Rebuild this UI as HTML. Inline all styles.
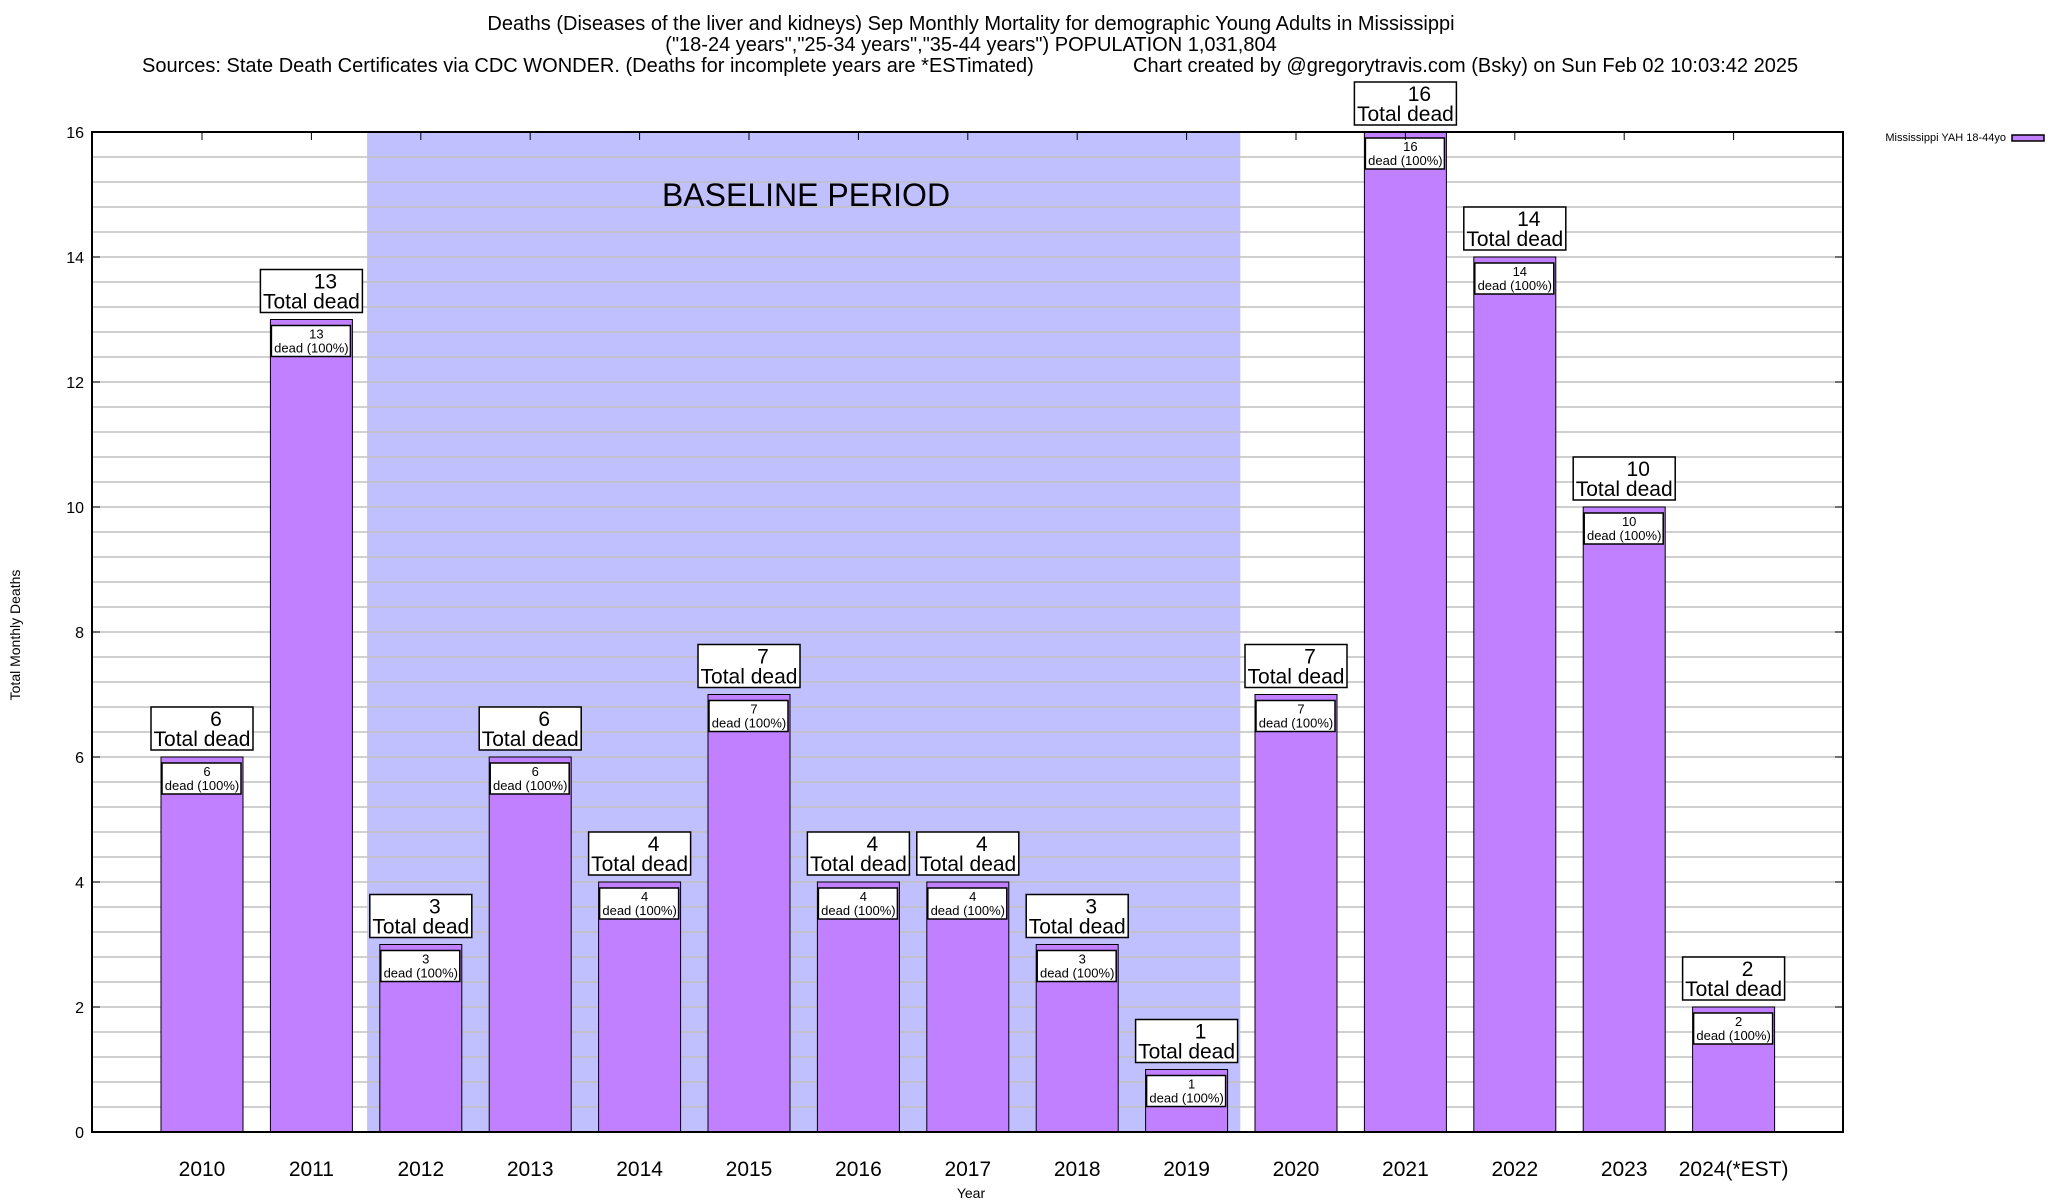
<!DOCTYPE html>
<html><head><meta charset="utf-8"><style>
html,body{margin:0;padding:0;background:#fff;}
svg{display:block;font-family:"Liberation Sans",sans-serif;}
</style></head><body>
<svg id="chart" width="2048" height="1200" viewBox="0 0 2048 1200" xmlns="http://www.w3.org/2000/svg">
<g font-size="20" fill="#000">
<text x="971" y="30" text-anchor="middle">Deaths (Diseases of the liver and kidneys) Sep Monthly Mortality for demographic Young Adults in Mississippi</text>
<text x="971" y="51" text-anchor="middle">("18-24 years","25-34 years","35-44 years") POPULATION 1,031,804</text>
<text x="142" y="72">Sources: State Death Certificates via CDC WONDER. (Deaths for incomplete years are *ESTimated)</text>
<text x="1133" y="72">Chart created by @gregorytravis.com (Bsky) on Sun Feb 02 10:03:42 2025</text>
</g>
<g id="plot"></g>
<text x="20" y="635" font-size="14" text-anchor="middle" transform="rotate(-90 20 635)">Total Monthly Deaths</text>
<text x="971" y="1198" font-size="14" text-anchor="middle">Year</text>
<g>
<text x="2006" y="141" font-size="11" text-anchor="end">Mississippi YAH 18-44yo</text>
<rect x="2012" y="135" width="32" height="6" fill="#c080ff" stroke="#000" stroke-width="1.5"/>
</g>
</svg>
<script>
const categories = ["2010","2011","2012","2013","2014","2015","2016","2017","2018","2019","2020","2021","2022","2023","2024(*EST)"];
const deaths = [6,13,3,6,4,7,4,4,3,1,7,16,14,10,2];
const yTicks = [0,2,4,6,8,10,12,14,16];
const baselineRange = [2, 9];

const NS = "http://www.w3.org/2000/svg";
const plot = document.getElementById("plot");
const L = 92, R = 1843, T = 132, B = 1132, yMax = 16;
const x0 = 202, pitch = 109.4, barW = 82;
const xc = i => x0 + pitch * i;
const y = v => B - (v / yMax) * (B - T);
function mk(tag, attrs, parent) {
  const e = document.createElementNS(NS, tag);
  for (const k in attrs) e.setAttribute(k, attrs[k]);
  (parent || plot).appendChild(e);
  return e;
}
const band = mk("rect", {x: xc(baselineRange[0]) - pitch/2 + 1, y: T, width: (baselineRange[1]-baselineRange[0]+1)*pitch - 2, height: B - T, fill: "#c0c0ff"});


const bt = mk("text", {x: 806, y: 206, "font-size": 32, "text-anchor": "middle"});
bt.textContent = "BASELINE PERIOD";


for (let v = 0.4; v < yMax - 0.01; v += 0.4) {
  const g = mk("line", {x1: L, x2: R, y1: y(v), y2: y(v), stroke: "#c0c0c0", "stroke-width": 1.5});
  
  
}
yTicks.forEach(v => {
  const t = mk("text", {x: L - 8, y: y(v) + 6, "font-size": 16, "text-anchor": "end"});
  t.textContent = v;
  
  
  mk("line", {x1: L, x2: L + 8, y1: y(v), y2: y(v), stroke: "#000", "stroke-width": 1});
  mk("line", {x1: R, x2: R - 8, y1: y(v), y2: y(v), stroke: "#000", "stroke-width": 1});
});
categories.forEach((c, i) => {
  const v = deaths[i], cx = xc(i), top = y(v);
  const g = mk("g", {});
  
  
  mk("rect", {x: cx - barW/2, y: top, width: barW, height: B - top, fill: "#c080ff", stroke: "#000", "stroke-width": 1}, g);
  mk("rect", {x: cx - barW/2 + 1, y: top + 6, width: barW - 3, height: 31, fill: "#fff", stroke: "#000", "stroke-width": 1.5}, g);
  const t1 = mk("text", {x: cx + 5, y: top + 19, "font-size": 13, "text-anchor": "middle"}, g);
  t1.textContent = v;
  const t2 = mk("text", {x: cx, y: top + 33, "font-size": 13, "text-anchor": "middle"}, g);
  t2.textContent = "dead (100%)";
  const lb = mk("g", {});
  
  
  mk("rect", {x: cx - 51, y: top - 50, width: 102, height: 43, fill: "#fff", stroke: "#000", "stroke-width": 1.5}, lb);
  const n = mk("text", {x: cx + 14, y: top - 31, "font-size": 21, "text-anchor": "middle"}, lb);
  n.textContent = v;
  const td = mk("text", {x: cx, y: top - 11, "font-size": 21, "text-anchor": "middle"}, lb);
  td.textContent = "Total dead";
  const xl = mk("text", {x: cx, y: 1176, "font-size": 21, "text-anchor": "middle"});
  xl.textContent = c;
  
  
  mk("line", {x1: cx, x2: cx, y1: T, y2: T + 8, stroke: "#000", "stroke-width": 1});
});
const frame = mk("rect", {x: L, y: T, width: R - L, height: B - T, fill: "none", stroke: "#000", "stroke-width": 2});


</script>
</body></html>
